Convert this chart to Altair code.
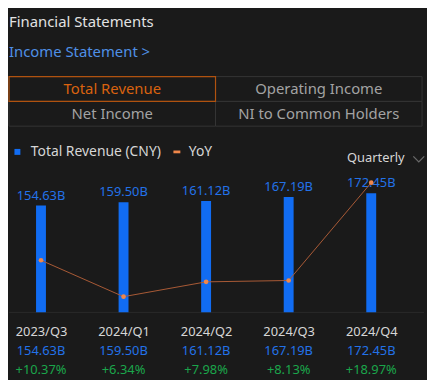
import altair as alt
import pandas as pd

# ---- data ----
quarters = ["2023/Q3", "2024/Q1", "2024/Q2", "2024/Q3", "2024/Q4"]
revenue = [154.63, 159.50, 161.12, 167.19, 172.45]   # CNY billions
yoy = [10.37, 6.34, 7.98, 8.13, 18.97]               # %

tab_labels = ["Total Revenue", "Operating Income", "Net Income", "NI to Common Holders"]
tab_cols = [0, 1, 0, 1]
tab_rows = [0, 0, 1, 1]
tab_selected = [True, False, False, False]

title_text = "Financial Statements"
subtitle_text = "Income Statement >"
series_rev = "Total Revenue (CNY)"
series_yoy = "YoY"
period_label = ["Quarterly"]

# ---- style ----
FONT = "Noto Sans"
BG = "#1a1a1a"
BLUE_BAR = "#116cf2"
BLUE_TXT = "#2372e8"
GREEN = "#1aa64b"
ORANGE_PT = "#f0874a"
ORANGE_LN = "#a95a36"
ORANGE_TAB = "#b0520f"
ORANGE_TAB_TXT = "#d9620f"
GREY_TXT = "#a3a3a3"
LIGHT_TXT = "#d6d6d6"

W = 419
H = 175

df = pd.DataFrame({"quarter": quarters, "revenue": revenue, "yoy": yoy})
df["series"] = series_rev
df["yoy_series"] = series_yoy

base = alt.Chart(df).transform_calculate(
    rev_label="format(datum.revenue, '.2f') + 'B'",
    yoy_label="(datum.yoy >= 0 ? '+' : '') + format(datum.yoy, '.2f') + '%'",
)

x_enc = alt.X(
    "quarter:N",
    sort=quarters,
    scale=alt.Scale(type="point", range=[32.3, 365.7], padding=0),
    axis=alt.Axis(title=None, domain=False, ticks=False, grid=False,
                  labelFontSize=13, labelColor=LIGHT_TXT, labelFont=FONT,
                  labelPadding=13, labelAngle=0),
)
y_rev = alt.Y("revenue:Q", scale=alt.Scale(domain=[0, 251]), axis=None)
y_yoy = alt.Y("yoy:Q", scale=alt.Scale(domain=[4.6, 23.8]), axis=None)

baseline = alt.Chart(pd.DataFrame({"a": [0]})).mark_rule(
    color="#2b2b2b", strokeWidth=1
).encode(x=alt.value(0), x2=alt.value(W), y=alt.value(H))

bars = base.mark_bar(size=10).encode(
    x=x_enc,
    y=y_rev,
    color=alt.Color(
        "series:N",
        scale=alt.Scale(domain=[series_rev], range=[BLUE_BAR]),
        legend=alt.Legend(orient="none", legendX=1.5, legendY=6, title=None,
                          symbolType="square", symbolSize=36, symbolStrokeWidth=0,
                          labelFontSize=14, labelFont=FONT, labelColor=LIGHT_TXT,
                          labelOffset=6.5),
    ),
)

bar_labels = base.mark_text(dy=-10, fontSize=13, font=FONT, color=BLUE_TXT,
                            baseline="middle").encode(x=x_enc, y=y_rev, text="rev_label:N")

line = base.mark_line(color=ORANGE_LN, strokeWidth=1).encode(x=x_enc, y=y_yoy)

points = base.mark_circle(size=22, opacity=1).encode(
    x=x_enc,
    y=y_yoy,
    color=alt.Color(
        "yoy_series:N",
        scale=alt.Scale(domain=[series_yoy], range=[ORANGE_PT]),
        legend=alt.Legend(orient="none", legendX=162.5, legendY=6, title=None,
                          symbolType="M-1,-0.4H1V0.4H-1Z", symbolSize=49,
                          symbolStrokeWidth=0, symbolOpacity=1,
                          labelFontSize=14, labelFont=FONT, labelColor=LIGHT_TXT,
                          labelOffset=5),
    ),
)

val_row = base.mark_text(fontSize=13, font=FONT, color=BLUE_TXT, baseline="middle",
                         dy=39).encode(x=x_enc, y=alt.value(H), text="rev_label:N")
pct_row = base.mark_text(fontSize=13, font=FONT, color=GREEN, baseline="middle",
                         dy=58.5).encode(x=x_enc, y=alt.value(H), text="yoy_label:N")

period_df = pd.DataFrame({"t": period_label})
period_txt = alt.Chart(period_df).mark_text(
    align="left", baseline="middle", fontSize=13, font=FONT, color=LIGHT_TXT
).encode(x=alt.value(341.3), y=alt.value(19), text="t:N")
chevron = alt.Chart(period_df).mark_point(
    shape="M-1,-0.5L0,0.5L1,-0.5", size=121, filled=False, color="#6a6a6a",
    strokeWidth=1.3, opacity=1
).encode(x=alt.value(413.7), y=alt.value(20.3))

main = alt.layer(
    baseline, bars, bar_labels, line, points, val_row, pct_row, period_txt, chevron
).resolve_scale(y="independent", color="independent").properties(width=W, height=H)

# ---- tabs ----
tabs_df = pd.DataFrame({"label": tab_labels, "col": tab_cols, "row": tab_rows,
                        "selected": tab_selected})
tx = alt.X("col:O", scale=alt.Scale(paddingInner=0, paddingOuter=0), axis=None)
ty = alt.Y("row:O", scale=alt.Scale(paddingInner=0, paddingOuter=0), axis=None)
tab_cells = alt.Chart(tabs_df).mark_rect(fill=BG, stroke="#353535", strokeWidth=1).encode(x=tx, y=ty)
tab_sel = alt.Chart(tabs_df).transform_filter("datum.selected").mark_rect(
    fillOpacity=0, stroke=ORANGE_TAB, strokeWidth=1.2).encode(x=tx, y=ty)
tab_text = alt.Chart(tabs_df).mark_text(fontSize=15, font=FONT, baseline="middle").encode(
    x=tx, y=ty, text="label:N",
    color=alt.condition("datum.selected", alt.value(ORANGE_TAB_TXT), alt.value(GREY_TXT)),
)
tabs = alt.layer(tab_cells, tab_sel, tab_text).properties(width=417, height=50)

chart = alt.vconcat(tabs, main, spacing=12).properties(
    padding={"left": 0, "top": 4.5, "right": 0, "bottom": 0},
    title=alt.TitleParams(
        text=title_text, subtitle=subtitle_text, anchor="start", frame="group",
        font=FONT, fontSize=15, fontWeight="normal", color="#e2e2e2",
        subtitleFont=FONT, subtitleFontSize=15, subtitleColor="#4f90e6",
        subtitlePadding=15.5, offset=16,
    ),
).configure(background=BG, font=FONT).configure_view(stroke=None)

chart.save("out.html", embed_options={"renderer": "svg", "actions": False})
